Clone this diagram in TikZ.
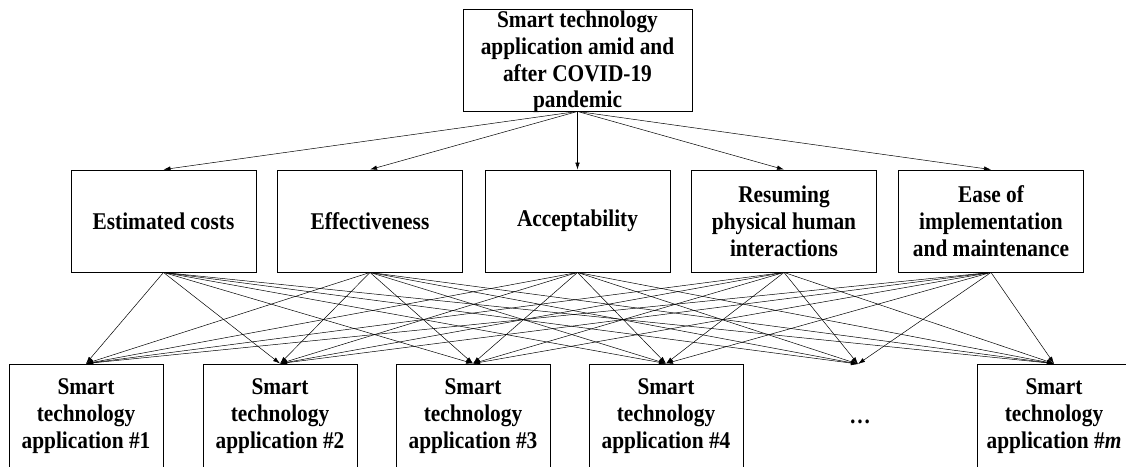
\documentclass[tikz,border=0pt]{standalone}
\usepackage{fontspec}
\setmainfont{Liberation Serif}[FakeStretch=0.89]
\usetikzlibrary{arrows.meta}
\begin{document}
\begin{tikzpicture}[x=1pt,y=-1pt,
  txt/.style={font=\fontsize{24}{26.8}\selectfont\bfseries,align=center,inner sep=0pt},
  box/.style={txt,draw,line width=0.9pt},
  mid/.style={box,minimum width=185pt,minimum height=102pt},
  app/.style={box,minimum width=154pt,minimum height=104pt},
  conn/.style={line width=0.5pt,-{Latex[length=7pt,width=4.5pt]}}]
\useasboundingbox (0,0) rectangle (1126,466);
\clip (0,0) rectangle (1126,466);
% top
\node[box,minimum width=229pt,minimum height=102pt] (top) at (577.5,60) {};
\node[txt] (toptext) at (577.5,62) {Smart technology\\application amid and\\after COVID-19\\pandemic};
% criteria
\node[mid] (c1) at (163.5,221) {Estimated costs};
\node[mid] (c2) at (370,221) {Effectiveness};
\node[mid] (c3) at (577.5,221) {Acceptability};
\node[mid] (c4) at (784,221) {Resuming\\physical human\\interactions};
\node[mid] (c5) at (991,221) {Ease of\\implementation\\and maintenance};
% alternatives
\node[app] (a1) at (86,416) {Smart\\technology\\application \#1};
\node[app] (a2) at (280,416) {Smart\\technology\\application \#2};
\node[app] (a3) at (473,416) {Smart\\technology\\application \#3};
\node[app] (a4) at (666,416) {Smart\\technology\\application \#4};
\node[txt] (dots) at (860,422) {…};
\coordinate (dt) at (858,364);
\node[app] (am) at (1054,416) {Smart\\technology\\application \#\textit{m}};
% connectors
\foreach \c in {c1,c2,c3,c4,c5}{
  \draw[conn] (top.south) -- (\c.north);
  \foreach \a in {a1,a2,a3,a4,am}{
    \draw[conn] (\c.south) -- (\a.north);
  }
  \draw[conn] (\c.south) -- (dt);
}
\end{tikzpicture}
\end{document}
